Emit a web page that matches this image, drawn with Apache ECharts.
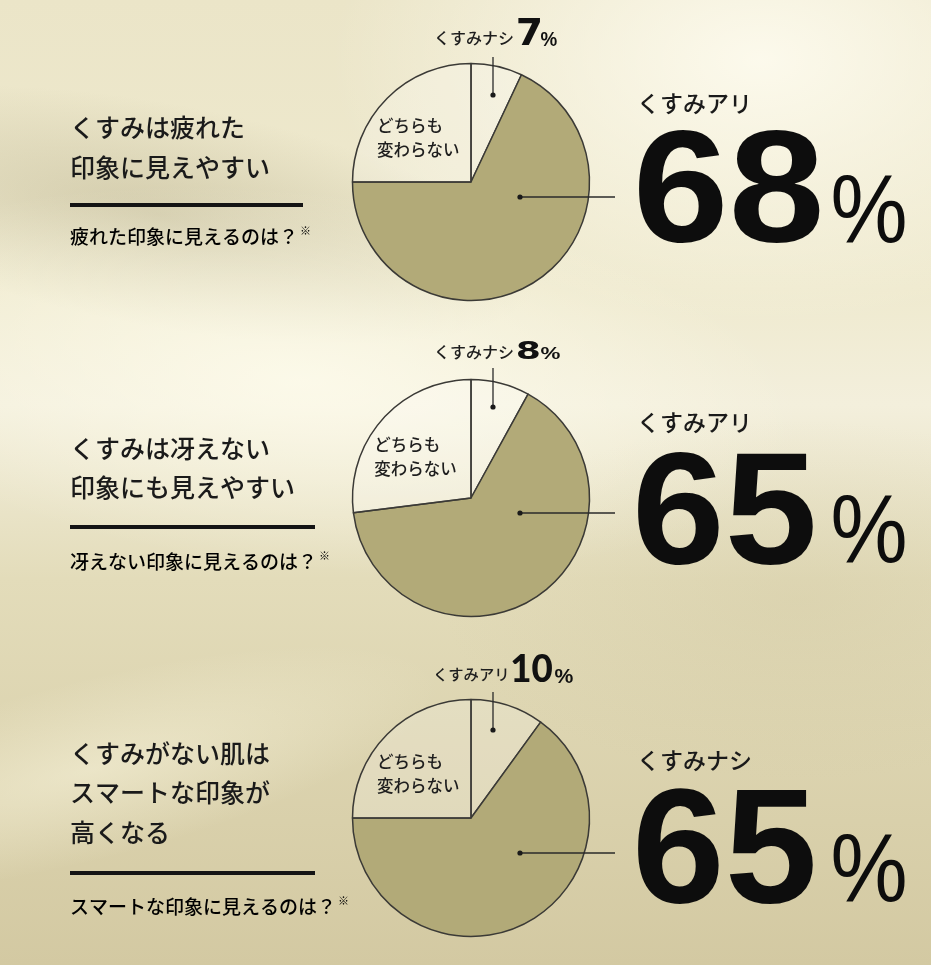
<!DOCTYPE html>
<html>
<head>
<meta charset="utf-8">
<script src="https://cdn.jsdelivr.net/npm/echarts@6/dist/echarts.min.js"></script>
<style>
html,body{margin:0;padding:0;}
#c{width:931px;height:965px;}
</style>
</head>
<body>
<div id="c"></div>
<script>
// ---------- data ----------
const headings = [
  ['くすみは疲れた', '印象に見えやすい'],
  ['くすみは冴えない', '印象にも見えやすい'],
  ['くすみがない肌は', 'スマートな印象が', '高くなる']
];
const questions = ['疲れた印象に見えるのは？', '冴えない印象に見えるのは？', 'スマートな印象に見えるのは？'];
const smallNames = ['くすみナシ', 'くすみナシ', 'くすみアリ'];
const smallValues = [7, 8, 10];
const bigNames = ['くすみアリ', 'くすみアリ', 'くすみナシ'];
const bigValues = [68, 65, 65];
const neitherName = 'どちらも変わらない';
const neitherLines = ['どちらも', '変わらない'];
const neitherValues = [25, 27, 25];

// ---------- layout (glyph boxes: [left, top, right, bottom]) ----------
const JP = '"Noto Sans CJK JP", "Noto Sans", sans-serif';
const LAT = '"Liberation Sans", Arial, sans-serif';
const CX = 471, R = 118.5;
const CY = [182, 498, 818];
const headY = [[127, 167], [448, 487], [753, 792, 832]];
const ruleY = [205, 527, 873];
const ruleX2 = [303, 315, 315];
const qY = [237, 562, 907];
const kanaY = [38, 352, 674];
const kanaX = [434, 434, 433];
const kanaSize = [16, 16, 15.3];
const smallNumBox = [[518, 18, 540, 45], [518, 340, 539, 359], [512, 654, 552, 682]];
const smallNumFont = [['bold', '"DejaVu Sans"'], ['bold', '"DejaVu Sans"'], ['900', 'Lato']];
const smallPctBox = [[541, 31, 557, 46], [541, 347, 560, 359], [555, 668, 573, 683]];
const smallLineTop = [57, 368, 692];
const smallDotDy = [-87, -91, -88];
const bigDotDy = [15, 15, 35];
const bigLabelY = [103, 422, 760];
const bigNumBox = [[638, 130, 820, 243], [637, 452, 813, 565], [637, 788, 813, 904]];
const bigPctBox = [[833, 175, 905, 243], [833, 495, 905, 563], [833, 833, 905, 902]];

const mctx = document.createElement('canvas').getContext('2d');
function fitText(text, weight, family, box, fill) {
  mctx.font = weight + ' 100px ' + family;
  mctx.textBaseline = 'middle';
  mctx.textAlign = 'left';
  const m = mctx.measureText(text);
  const h = m.actualBoundingBoxAscent + m.actualBoundingBoxDescent;
  const w = m.actualBoundingBoxLeft + m.actualBoundingBoxRight;
  const k = (box[3] - box[1]) / h;
  const sx = (box[2] - box[0]) / (w * k);
  return {
    type: 'text', z: 10, silent: true,
    x: box[0] + m.actualBoundingBoxLeft * k * sx,
    y: box[1] + m.actualBoundingBoxAscent * k,
    scaleX: sx,
    style: {text: text, font: weight + ' ' + (100 * k).toFixed(2) + 'px ' + family,
      fill: fill || '#0d0d0d', verticalAlign: 'middle', align: 'left'}
  };
}

const chart = echarts.init(document.getElementById('c'), null, {renderer: 'canvas'});

const graphics = [];
// background
graphics.push({
  type: 'rect', z: -10, silent: true,
  shape: {x: 0, y: 0, width: 931, height: 965},
  style: {fill: {type: 'linear', x: 0, y: 0, x2: 0, y2: 1, colorStops: [
    {offset: 0, color: '#ebe5c8'},
    {offset: 0.3, color: '#efeacf'},
    {offset: 0.42, color: '#f3efdc'},
    {offset: 0.6, color: '#e3dcba'},
    {offset: 1, color: '#d3c9a2'}
  ]}}
});
function glow(x, y, r, color, sx, sy, rot) {
  graphics.push({
    type: 'circle', z: -9, silent: true,
    x: x, y: y, scaleX: sx, scaleY: sy, rotation: rot || 0,
    shape: {cx: 0, cy: 0, r: r},
    style: {fill: {type: 'radial', x: 0.5, y: 0.5, r: 0.5, colorStops: [
      {offset: 0, color: color},
      {offset: 1, color: color.replace(/[\d.]+\)$/, '0)')}
    ]}}
  });
}
glow(760, 60, 330, 'rgba(255,253,242,0.85)', 1.3, 0.8, 0);
glow(160, 215, 320, 'rgba(160,150,110,0.35)', 1.2, 0.35, -0.18);
glow(300, 380, 420, 'rgba(255,253,238,0.75)', 1.2, 0.45, -0.1);
glow(90, 770, 300, 'rgba(248,244,220,0.55)', 1.2, 0.3, 0.25);
glow(800, 600, 300, 'rgba(200,190,150,0.25)', 1.2, 0.6, 0);

const series = [];
for (let i = 0; i < 3; i++) {
  const cy = CY[i];
  series.push({
    type: 'pie', silent: true, animation: false,
    center: [CX, cy], radius: R,
    startAngle: 90, clockwise: true,
    itemStyle: {borderColor: '#3b3a36', borderWidth: 1.5},
    label: {show: false},
    labelLine: {show: false},
    emphasis: {disabled: true},
    data: [
      {name: smallNames[i], value: smallValues[i], itemStyle: {color: 'rgba(255,255,255,0.2)'}},
      {name: bigNames[i], value: bigValues[i], itemStyle: {color: '#b2aa78'}},
      {name: neitherName, value: neitherValues[i], itemStyle: {color: 'rgba(255,255,255,0.2)'},
        label: {show: true, position: 'inside', offset: [-8, 0],
          formatter: '{a|' + neitherLines[0] + '}\n{a|' + neitherLines[1] + '}',
          rich: {a: {fontFamily: JP, fontSize: 16.5, fontWeight: 500, color: '#1e1e1e', width: 84, align: 'left', lineHeight: 24}}}}
    ]
  });

  // headings
  headings[i].forEach((t, k) => graphics.push({
    type: 'text', z: 10, x: 70, y: headY[i][k], silent: true,
    style: {text: t, font: '500 25px ' + JP, fill: '#1a1a1a', verticalAlign: 'middle', align: 'left'}
  }));
  // rule
  graphics.push({type: 'rect', z: 10, silent: true, shape: {x: 70, y: ruleY[i] - 2, width: ruleX2[i] - 70, height: 4}, style: {fill: '#141414'}});
  // question
  graphics.push({
    type: 'text', z: 10, x: 70, y: qY[i], silent: true,
    style: {text: '{q|' + questions[i] + '}{s|※}', verticalAlign: 'middle', align: 'left',
      rich: {q: {fontFamily: JP, fontSize: 19, fontWeight: 500, color: '#1e1e1e'},
             s: {fontFamily: JP, fontSize: 11, color: '#1e1e1e', padding: [0, 0, 12, 2]}}}
  });
  // top small label
  graphics.push({type: 'text', z: 10, x: kanaX[i], y: kanaY[i], silent: true,
    style: {text: smallNames[i], font: '500 ' + kanaSize[i] + 'px ' + JP, fill: '#1e1e1e', verticalAlign: 'middle', align: 'left'}});
  graphics.push(fitText(String(smallValues[i]), smallNumFont[i][0], smallNumFont[i][1], smallNumBox[i], '#111'));
  graphics.push(fitText('%', '600', LAT, smallPctBox[i], '#111'));
  // small leader
  const sx = CX + 22;
  graphics.push({type: 'line', z: 10, silent: true, shape: {x1: sx, y1: smallLineTop[i], x2: sx, y2: cy + smallDotDy[i]}, style: {stroke: '#2a2a2a', lineWidth: 1.3}});
  graphics.push({type: 'circle', z: 10, silent: true, shape: {cx: sx, cy: cy + smallDotDy[i], r: 2.6}, style: {fill: '#1a1a1a'}});
  // big leader
  const bx = CX + 49;
  graphics.push({type: 'line', z: 10, silent: true, shape: {x1: bx, y1: cy + bigDotDy[i], x2: 615, y2: cy + bigDotDy[i]}, style: {stroke: '#2a2a2a', lineWidth: 1.3}});
  graphics.push({type: 'circle', z: 10, silent: true, shape: {cx: bx, cy: cy + bigDotDy[i], r: 2.6}, style: {fill: '#1a1a1a'}});
  // big label + number
  graphics.push({type: 'text', z: 10, x: 637, y: bigLabelY[i], silent: true,
    style: {text: bigNames[i], font: '500 23px ' + JP, fill: '#1a1a1a', verticalAlign: 'middle', align: 'left'}});
  graphics.push(fitText(String(bigValues[i]), 'bold', LAT, bigNumBox[i]));
  graphics.push(fitText('%', 'normal', LAT, bigPctBox[i]));
}

chart.setOption({
  backgroundColor: '#ebe5c8',
  animation: false,
  graphic: {elements: graphics},
  series: series
});
</script>
</body>
</html>
